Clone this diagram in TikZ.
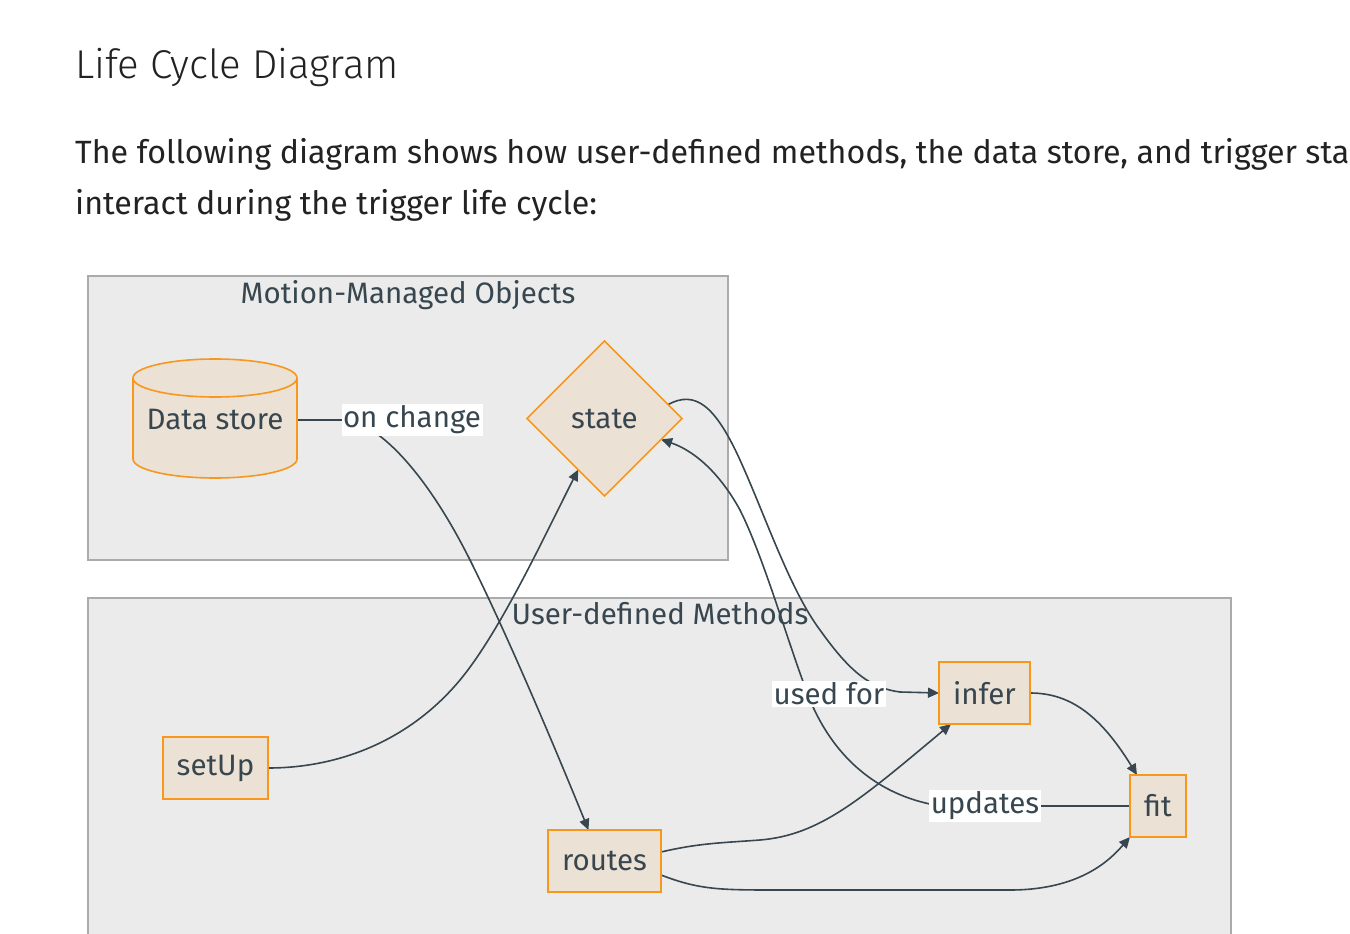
\documentclass[tikz,border=0pt]{standalone}
\usepackage{fontspec}
\setmainfont{Fira Sans}
\newfontfamily\lclightfamily{Fira Sans Light}
\usetikzlibrary{shapes.geometric,arrows.meta,calc}
\definecolor{clfill}{HTML}{EBEBEB}
\definecolor{clline}{HTML}{ABABAB}
\definecolor{ndfill}{HTML}{ECE1D5}
\definecolor{ndline}{HTML}{F7981D}
\definecolor{ink}{HTML}{37464F}
\definecolor{txt}{HTML}{222222}
\newcommand{\lcnodefont}{\fontsize{29.5}{34}\selectfont}
\newcommand{\lctitlefont}{\lclightfamily\fontsize{40.2}{46}\selectfont}
\newcommand{\lcbodyfont}{\fontsize{32.2}{38}\selectfont}
\pgfdeclarelayer{lcback}
\pgfdeclarelayer{lcedges}
\pgfsetlayers{lcback,lcedges,main}
\begin{document}
\begin{tikzpicture}[x=1pt,y=-1pt,
  cluster/.style={fill=clfill,draw=clline,line width=1.5pt},
  clusterlabel/.style={text=ink,font=\lcnodefont,inner sep=0pt,anchor=base},
  box/.style={rectangle,fill=ndfill,draw=ndline,line width=1.6pt,text=ink,font=\lcnodefont,inner sep=0pt,outer sep=0pt,minimum height=62pt},
  elabel/.style={fill=white,text=ink,font=\lcnodefont,inner sep=1.5pt},
  conn/.style={draw=ink,line width=1.6pt},
  tip/.style={-{Triangle[length=11pt,width=10pt]}},
]
\useasboundingbox (0,0) rectangle (1350,934);
\clip (0,0) rectangle (1350,934);
\begin{pgfonlayer}{lcback}
\fill[white] (0,0) rectangle (1350,934);
\node[anchor=base west,inner sep=0pt,text=txt,font=\lctitlefont] (title) at (75,78) {Life Cycle Diagram};
\node[anchor=base west,inner sep=0pt,text=txt,font=\lcbodyfont] (body1) at (75,163) {The following diagram shows how user-defined methods, the data store, and trigger sta};
\node[anchor=base west,inner sep=0pt,text=txt,font=\lcbodyfont] (body2) at (75,214) {interact during the trigger life cycle:};
\path[cluster] (88,276) rectangle (728,560);
\path[cluster] (88,598) rectangle (1231,960);
\node[clusterlabel] (cl1) at (408,303) {Motion-Managed Objects};
\node[clusterlabel] (cl2) at (660,624) {User-defined Methods};
\end{pgfonlayer}
% cylinder
\fill[ndfill] (133,378) rectangle (297,459);
\fill[ndfill] (215,459) ellipse [x radius=82, y radius=19];
\fill[ndfill] (215,378) ellipse [x radius=82, y radius=19];
\draw[ndline,line width=1.6pt] (133,378) -- (133,459) .. controls (133,469.5) and (169.7,478) .. (215,478) .. controls (260.3,478) and (297,469.5) .. (297,459) -- (297,378);
\draw[ndline,line width=1.6pt] (215,378) ellipse [x radius=82, y radius=19];
\node[rectangle,inner sep=0pt,outer sep=0pt,minimum width=164pt,minimum height=119pt,text=ink,font=\lcnodefont] (ds) at (215,420) {Data store};
\node[diamond,aspect=1,fill=ndfill,draw=ndline,line width=1.6pt,inner sep=0pt,outer sep=0pt,minimum width=155pt,minimum height=155pt,text=ink,font=\lcnodefont] (state) at (604.5,418.5) {\raisebox{-2pt}{state}};
\node[box,minimum width=105pt] (setUp) at (215.5,768) {\raisebox{-2pt}{setUp}};
\node[box,minimum width=113pt] (routes) at (604.5,861) {\raisebox{-2pt}{routes}};
\node[box,minimum width=91pt] (infer) at (984.5,693) {\raisebox{-2pt}{infer}};
\node[box,minimum width=56pt] (fit) at (1158,806) {\raisebox{-2pt}{fit}};
% edge labels
\node[elabel] (oc) at (412,420) {on change};
\node[elabel] (uf) at (829,694) {used for};
\node[elabel] (up) at (985,806) {\raisebox{-1pt}{updates}};
\begin{pgfonlayer}{lcedges}
\draw[conn,tip] (ds.east) -- (oc.west) .. controls (375,419) and (425,470) .. (470,560) .. controls (510,640) and (560,760) .. ($(routes.north)+(-16,0)$);
\draw[conn,tip] (setUp.east) .. controls (340,768) and (410,740) .. (460,680) .. controls (500,632) and (545,535) .. ($(state.west)!0.66!(state.south)$);
\draw[conn,tip] ($(state.north)!0.82!(state.east)$) .. controls (695,390) and (715,405) .. (740,460) .. controls (765,515) and (790,590) .. (820,630) .. controls (850,672) and (870,688) .. (900,692) -- (infer.west);
\draw[conn,tip] (fit.west) -- (up.east) -- (935,805) .. controls (880,795) and (835,760) .. (810,700) .. controls (790,650) and (765,560) .. (740,510) .. controls (718,470) and (692,450) .. ($(state.east)!0.27!(state.south)$);
\draw[conn,tip] (infer.east) .. controls (1070,693) and (1100,715) .. ($(fit.north west)+(7,0)$);
\draw[conn,tip] ($(routes.east)+(0,-9)$) .. controls (700,843) and (720,843) .. (760,840) .. controls (820,835) and (860,800) .. ($(infer.south west)+(12,0)$);
\draw[conn,tip] ($(routes.east)+(0,14)$) .. controls (700,890) and (720,890) .. (780,890) -- (1010,890) .. controls (1080,890) and (1110,860) .. (fit.south west);
\end{pgfonlayer}
\end{tikzpicture}
\end{document}
